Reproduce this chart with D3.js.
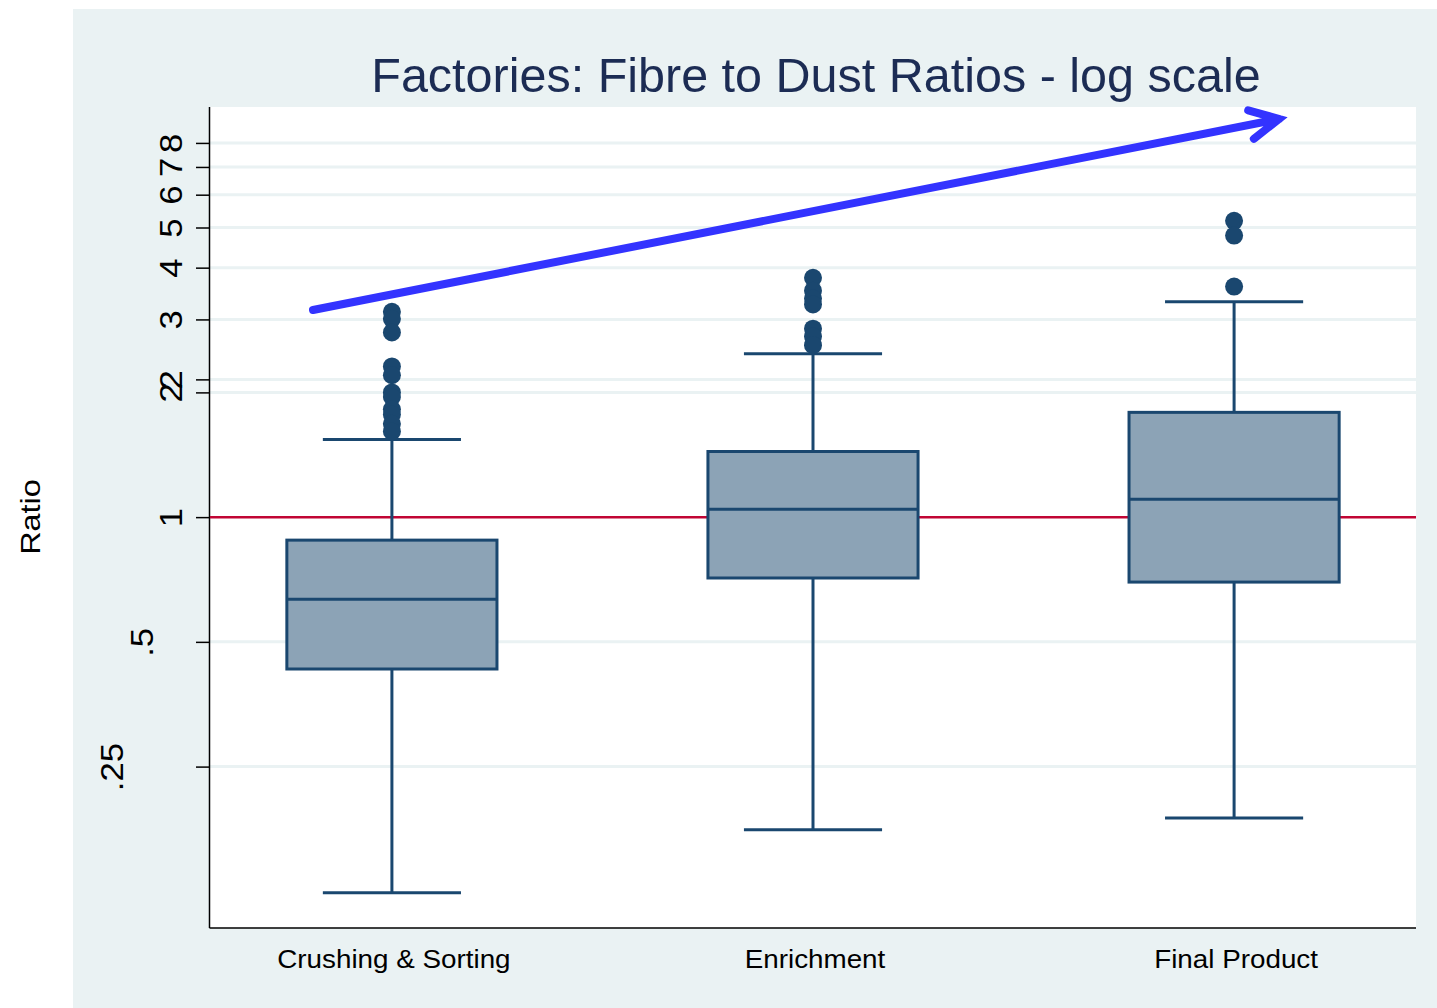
<!DOCTYPE html>
<html><head><meta charset="utf-8">
<script src="https://cdn.jsdelivr.net/npm/d3@7"></script>
<style>body{margin:0;background:#fff}svg{display:block}text{font-family:"Liberation Sans",Arial,sans-serif}</style>
</head><body><svg id="c" width="1437" height="1008"></svg>
<script>
const categories = ["Crushing & Sorting", "Enrichment", "Final Product"];
const lowerWhisker = [0.124, 0.176, 0.188];
const q1 = [0.430, 0.713, 0.697];
const median = [0.634, 1.045, 1.105];
const q3 = [0.880, 1.44, 1.79];
const upperWhisker = [1.54, 2.48, 3.31];
const outliers = [
  [3.13, 3.01, 2.79, 2.31, 2.20, 2.0, 1.95, 1.82, 1.77, 1.68, 1.61],
  [3.78, 3.52, 3.37, 3.26, 2.85, 2.73, 2.60],
  [5.19, 4.78, 3.60]
];
const tickValues = [0.25, 0.5, 1, 2, 2.15, 3, 4, 5, 6, 7, 8];
const tickLabels = [".25", ".5", "1", "2", "2", "3", "4", "5", "6", "7", "8"];
const refLine = 1;
const title = "Factories: Fibre to Dust Ratios - log scale";
const yTitle = "Ratio";

const svg = d3.select("#c");
const W = 1437, H = 1008;
const L = 210, R = 1416, T = 107, B = 928;

svg.append("rect").attr("x", 73).attr("y", 9).attr("width", W - 73).attr("height", H - 9).attr("fill", "#EAF2F3");
svg.append("rect").attr("x", L).attr("y", T).attr("width", R - L).attr("height", B - T).attr("fill", "#fff");

const y = d3.scaleLog().base(2).domain([Math.pow(2, -3.294), Math.pow(2, 3.288)]).range([B, T]);
const x = d3.scalePoint().domain(categories).range([L, R]).padding(0.432);
const step = x.step();
const boxW = step * 0.499;
const capW = step * 0.328;

// gridlines
svg.append("g").selectAll("line").data(tickValues.filter(v => v !== refLine)).join("line")
  .attr("x1", L).attr("x2", R).attr("y1", d => y(d)).attr("y2", d => y(d))
  .attr("stroke", "#EAF2F3").attr("stroke-width", 3);

// y axis
const yAxis = d3.axisLeft(y).tickValues(tickValues).tickSize(14).tickFormat((d, i) => tickLabels[i]);
const ga = svg.append("g").attr("transform", `translate(${L},0)`).call(yAxis);
ga.select(".domain").attr("stroke", "#000").attr("stroke-width", 1.5).attr("d", `M-0.5,${T}V${B}`);
ga.selectAll(".tick line").attr("stroke", "#000").attr("stroke-width", 1.5);
ga.selectAll(".tick text").each(function(d, i) {
  const lab = tickLabels[i];
  const off = (lab.length - 1) * 29.5;
  d3.select(this).attr("x", null).attr("dy", null)
    .attr("transform", `translate(${-28 - off},0) rotate(-90) scale(1.12,1)`)
    .attr("text-anchor", "middle").attr("dominant-baseline", "auto")
    .attr("font-size", 31).attr("fill", "#000").attr("font-family", '"Liberation Sans",Arial,sans-serif');
});

// bottom axis line
svg.append("line").attr("x1", L - 0.5).attr("x2", R).attr("y1", B).attr("y2", B).attr("stroke", "#000").attr("stroke-width", 1.5);

// ref line
svg.append("line").attr("x1", L).attr("x2", R).attr("y1", y(refLine)).attr("y2", y(refLine))
  .attr("stroke", "#C10534").attr("stroke-width", 2.5);

const navy = "#1A476F";
const g = svg.append("g");
categories.forEach((c, i) => {
  const cx = x(c);
  g.append("line").attr("x1", cx).attr("x2", cx).attr("y1", y(q3[i])).attr("y2", y(upperWhisker[i])).attr("stroke", navy).attr("stroke-width", 3);
  g.append("line").attr("x1", cx).attr("x2", cx).attr("y1", y(q1[i])).attr("y2", y(lowerWhisker[i])).attr("stroke", navy).attr("stroke-width", 3);
  g.append("line").attr("x1", cx - capW / 2).attr("x2", cx + capW / 2).attr("y1", y(upperWhisker[i])).attr("y2", y(upperWhisker[i])).attr("stroke", navy).attr("stroke-width", 3);
  g.append("line").attr("x1", cx - capW / 2).attr("x2", cx + capW / 2).attr("y1", y(lowerWhisker[i])).attr("y2", y(lowerWhisker[i])).attr("stroke", navy).attr("stroke-width", 3);
  g.append("rect").attr("x", cx - boxW / 2).attr("y", y(q3[i])).attr("width", boxW).attr("height", y(q1[i]) - y(q3[i]))
    .attr("fill", "#8CA3B6").attr("stroke", navy).attr("stroke-width", 3);
  g.append("line").attr("x1", cx - boxW / 2).attr("x2", cx + boxW / 2).attr("y1", y(median[i])).attr("y2", y(median[i])).attr("stroke", navy).attr("stroke-width", 3);
  g.selectAll(null).data(outliers[i]).join("circle")
    .attr("cx", cx).attr("cy", d => y(d)).attr("r", 9).attr("fill", navy);
  svg.append("text").attr("transform", `translate(${cx + 2},968) scale(1.07,1)`).attr("text-anchor", "middle").attr("font-size", 26).attr("fill", "#000").text(c);
});

// title
svg.append("text").attr("x", 816).attr("y", 92).attr("text-anchor", "middle").attr("font-size", 48.5).attr("fill", "#1C2C54").text(title);
// y title
svg.append("text").attr("transform", "translate(40,517) rotate(-90) scale(1.2,1)").attr("text-anchor", "middle").attr("font-size", 27).attr("fill", "#000").text(yTitle);

// arrow
const a0 = [313, 310], a1 = [1279, 119];
const ang = Math.atan2(a1[1] - a0[1], a1[0] - a0[0]);
const hl = 32, ha = 27 * Math.PI / 180;
const p1 = [a1[0] - hl * Math.cos(ang - ha), a1[1] - hl * Math.sin(ang - ha)];
const p2 = [a1[0] - hl * Math.cos(ang + ha), a1[1] - hl * Math.sin(ang + ha)];
svg.append("path").attr("d", `M${a0}L${a1}M${p1}L${a1}L${p2}`)
  .attr("fill", "none").attr("stroke", "#3333FF").attr("stroke-width", 8).attr("stroke-linecap", "round").attr("stroke-linejoin", "miter");
</script></body></html>
